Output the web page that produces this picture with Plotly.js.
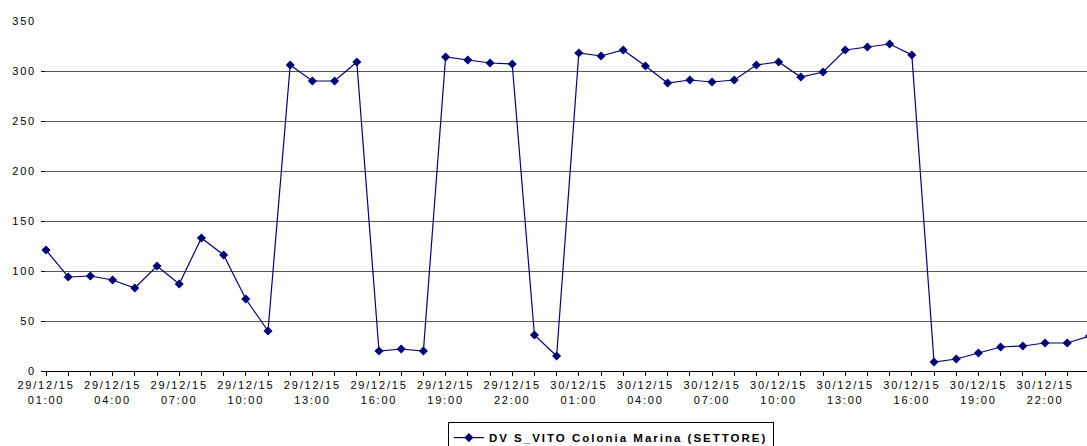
<!DOCTYPE html>
<html>
<head>
<meta charset="utf-8">
<script src="https://cdn.plot.ly/plotly-3.0.1.min.js"></script>
<style>
  html, body { margin: 0; padding: 0; background: #fff; }
  #chart { width: 1087px; height: 446px; }
  .xtick text, .ytick text { letter-spacing: 1.8px; }
  .legendtext { letter-spacing: 2px; }
</style>
</head>
<body>
<div id="chart"></div>
<script>
// Hourly timestamps (29/12/15 01:00 ... 31/12/15 00:00)
const times = [
  "2015-12-29 01:00","2015-12-29 02:00","2015-12-29 03:00","2015-12-29 04:00",
  "2015-12-29 05:00","2015-12-29 06:00","2015-12-29 07:00","2015-12-29 08:00",
  "2015-12-29 09:00","2015-12-29 10:00","2015-12-29 11:00","2015-12-29 12:00",
  "2015-12-29 13:00","2015-12-29 14:00","2015-12-29 15:00","2015-12-29 16:00",
  "2015-12-29 17:00","2015-12-29 18:00","2015-12-29 19:00","2015-12-29 20:00",
  "2015-12-29 21:00","2015-12-29 22:00","2015-12-29 23:00","2015-12-30 00:00",
  "2015-12-30 01:00","2015-12-30 02:00","2015-12-30 03:00","2015-12-30 04:00",
  "2015-12-30 05:00","2015-12-30 06:00","2015-12-30 07:00","2015-12-30 08:00",
  "2015-12-30 09:00","2015-12-30 10:00","2015-12-30 11:00","2015-12-30 12:00",
  "2015-12-30 13:00","2015-12-30 14:00","2015-12-30 15:00","2015-12-30 16:00",
  "2015-12-30 17:00","2015-12-30 18:00","2015-12-30 19:00","2015-12-30 20:00",
  "2015-12-30 21:00","2015-12-30 22:00","2015-12-30 23:00","2015-12-31 00:00"
];

// Series values
const values = [
  121, 94, 95, 91, 83, 105, 87, 133, 116, 72, 40,
  306, 290, 290, 309,
  20, 22, 20,
  314, 311, 308, 307,
  36, 15,
  318, 315, 321, 305, 288, 291, 289, 291, 306, 309, 294, 299, 321, 324, 327, 316,
  9, 12, 18, 24, 25, 28, 28, 35
];

const seriesName = "DV S_VITO Colonia Marina (SETTORE)";

// Tick positions and labels (every 3 hours)
const tickTimes = [
  "2015-12-29 01:00","2015-12-29 04:00","2015-12-29 07:00","2015-12-29 10:00",
  "2015-12-29 13:00","2015-12-29 16:00","2015-12-29 19:00","2015-12-29 22:00",
  "2015-12-30 01:00","2015-12-30 04:00","2015-12-30 07:00","2015-12-30 10:00",
  "2015-12-30 13:00","2015-12-30 16:00","2015-12-30 19:00","2015-12-30 22:00"
];
const tickLabels = [
  "29/12/15<br>01:00","29/12/15<br>04:00","29/12/15<br>07:00","29/12/15<br>10:00",
  "29/12/15<br>13:00","29/12/15<br>16:00","29/12/15<br>19:00","29/12/15<br>22:00",
  "30/12/15<br>01:00","30/12/15<br>04:00","30/12/15<br>07:00","30/12/15<br>10:00",
  "30/12/15<br>13:00","30/12/15<br>16:00","30/12/15<br>19:00","30/12/15<br>22:00"
];

const yTicks = [0, 50, 100, 150, 200, 250, 300, 350];

const trace = {
  type: "scatter",
  mode: "lines+markers",
  x: times,
  y: values,
  name: seriesName,
  line: { color: "#000080", width: 1.2 },
  marker: { symbol: "diamond", size: 7, color: "#000080" },
  cliponaxis: true
};

const layout = {
  width: 1087,
  height: 446,
  margin: { l: 41, r: 0, t: 21, b: 75, autoexpand: false },
  paper_bgcolor: "#ffffff",
  plot_bgcolor: "#ffffff",
  font: { family: "Liberation Sans, Arial, sans-serif", size: 11, color: "#000" },
  showlegend: true,
  legend: {
    x: 0.389, xanchor: "left",
    y: -0.146, yanchor: "top",
    bgcolor: "#ffffff",
    bordercolor: "#000000",
    borderwidth: 1,
    font: { family: "Liberation Sans, Arial, sans-serif", size: 11.5, color: "#000", weight: "bold" },
    itemwidth: 30
  },
  xaxis: {
    type: "date",
    automargin: false,
    range: ["2015-12-29 00:46:30", "2015-12-30 23:53:24"],
    tickmode: "array",
    tickvals: tickTimes,
    ticktext: tickLabels,
    ticks: "outside",
    ticklen: 4,
    tickcolor: "#000",
    showgrid: false,
    showline: true,
    linecolor: "#000",
    linewidth: 1,
    zeroline: false,
    tickfont: { family: "Liberation Sans, Arial, sans-serif", size: 11, color: "#000" },
    minor: { dtick: 3600000, tick0: "2015-12-29 01:00", ticks: "outside", ticklen: 4, tickcolor: "#000", showgrid: false }
  },
  yaxis: {
    automargin: false,
    range: [0, 350],
    tickmode: "array",
    tickvals: yTicks,
    ticktext: yTicks.map(String),
    ticks: "inside",
    ticklen: 4,
    tickcolor: "#000",
    showline: false,
    showgrid: true,
    gridcolor: "#555555",
    gridwidth: 1,
    zeroline: false,
    ticklabelstandoff: 4,
    tickfont: { family: "Liberation Sans, Arial, sans-serif", size: 11, color: "#000" }
  }
};

Plotly.newPlot("chart", [trace], layout, { displayModeBar: false, staticPlot: true });
</script>
</body>
</html>
